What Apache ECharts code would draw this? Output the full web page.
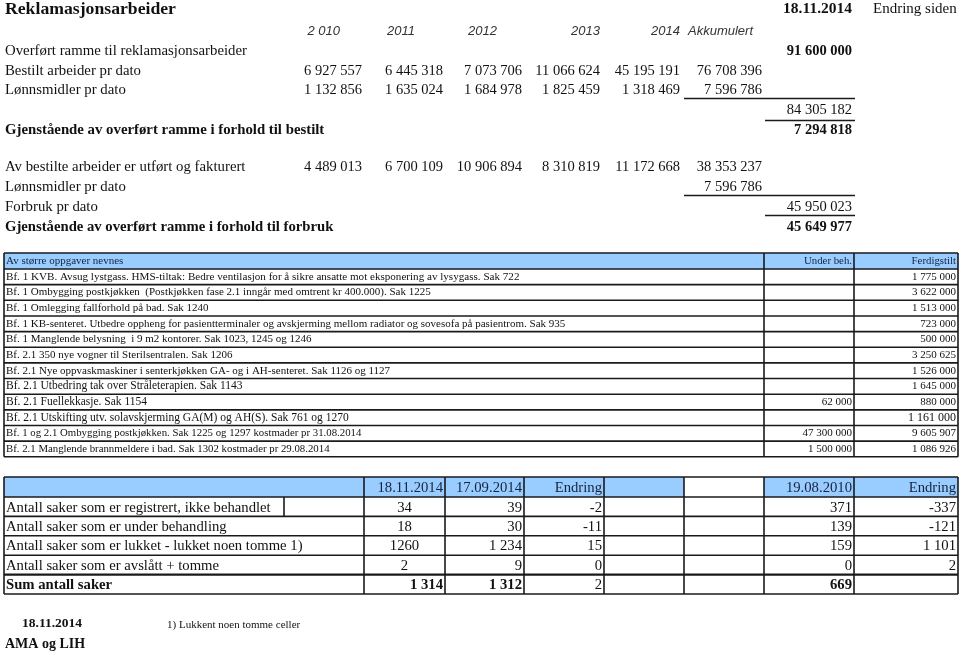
<!DOCTYPE html>
<html>
<head>
<meta charset="utf-8">
<script src="https://cdn.jsdelivr.net/npm/echarts@6/dist/echarts.min.js"></script>
<style>
  html, body { margin: 0; padding: 0; background: #fff; }
  #main { width: 960px; height: 653px; }
</style>
</head>
<body>
<div id="main"></div>
<script>
// --- data ---
var years = ['2 010', '2011', '2012', '2013', '2014'];
var bestilt = [6927557, 6445318, 7073706, 11066624, 45195191, 76708396];
var lonn = [1132856, 1635024, 1684978, 1825459, 1318469, 7596786];
var ramme = 91600000;
var sumBestilt = 84305182;
var restBestilt = 7294818;
var utfort = [4489013, 6700109, 10906894, 8310819, 11172668, 38353237];
var lonnTotal = 7596786;
var forbruk = 45950023;
var restForbruk = 45649977;

var taskNames = [
  'Bf. 1 KVB. Avsug lystgass. HMS-tiltak: Bedre ventilasjon for å sikre ansatte mot eksponering av lysygass. Sak 722',
  'Bf. 1 Ombygging postkjøkken  (Postkjøkken fase 2.1 inngår med omtrent kr 400.000). Sak 1225',
  'Bf. 1 Omlegging fallforhold på bad. Sak 1240',
  'Bf. 1 KB-senteret. Utbedre oppheng for pasientterminaler og avskjerming mellom radiator og sovesofa på pasientrom. Sak 935',
  'Bf. 1 Manglende belysning  i 9 m2 kontorer. Sak 1023, 1245 og 1246',
  'Bf. 2.1 350 nye vogner til Sterilsentralen. Sak 1206',
  'Bf. 2.1 Nye oppvaskmaskiner i senterkjøkken GA- og i AH-senteret. Sak 1126 og 1127',
  'Bf. 2.1 Utbedring tak over Stråleterapien. Sak 1143',
  'Bf. 2.1 Fuellekkasje. Sak 1154',
  'Bf. 2.1 Utskifting utv. solavskjerming GA(M) og AH(S). Sak 761 og 1270',
  'Bf. 1 og 2.1 Ombygging postkjøkken. Sak 1225 og 1297 kostmader pr 31.08.2014',
  'Bf. 2.1 Manglende brannmeldere i bad. Sak 1302 kostmader pr 29.08.2014'
];
var taskUnder = [null, null, null, null, null, null, null, null, 62000, null, 47300000, 1500000];
var taskDone = [1775000, 3622000, 1513000, 723000, 500000, 3250625, 1526000, 1645000, 880000, 1161000, 9605907, 1086926];

var sakLabels = [
  'Antall saker som er registrert, ikke behandlet',
  'Antall saker som er under behandling',
  'Antall saker som er lukket - lukket noen tomme 1)',
  'Antall saker som er avslått + tomme',
  'Sum antall saker'
];
var sakHeads = ['18.11.2014', '17.09.2014', 'Endring', '19.08.2010', 'Endring'];
var sak1811 = [34, 18, 1260, 2, 1314];
var sak1709 = [39, 30, 1234, 9, 1312];
var sakEndr = [-2, -11, 15, 0, 2];
var sak1908 = [371, 139, 159, 0, 669];
var sakEndr2010 = [-337, -121, 1101, 2, null];

// --- layout ---
var SERIF = '"Liberation Serif", "DejaVu Serif", serif';
var INK = '#111';
var HEADINK = '#16233d';
var BLUE = '#99ccff';
var numRight = [362, 443, 522, 600, 680, 762];
var yearRight = [340, 415, 497, 600, 680];
var totRight = 852;
var LAB = 14.8, NUM = 14.5;
var taskCols = [4, 764, 854, 958];
var taskTop = 253, taskHead = 16, taskRow = 15.65;
var taskSize = [11.1, 11, 11, 11, 11, 11, 11, 11.5, 11.5, 11.5, 10.8, 10.8];
var taskNumSize = [11, 11, 11, 11, 11, 11, 11, 11, 11, 12, 11, 11];
var sakCols = [4, 364, 445, 524, 604, 684, 764, 854, 958];
var sakTop = 477, sakHead = 20, sakRow = 19.4;
var SAK = 14.7;

function fmt(n) {
  if (n === null || n === undefined) return '';
  var s = String(Math.abs(n)).replace(/\B(?=(\d{3})+(?!\d))/g, ' ');
  return n < 0 ? '-' + s : s;
}

var rects = [], lines = [], texts = [];
function text(x, y, s, size, opt) {
  opt = opt || {};
  texts.push({ t: 'text', x: x, y: y, s: s, align: opt.align || 'left',
    font: (opt.italic ? 'italic ' : '') + (opt.bold ? 'bold ' : '') + size + 'px ' + (opt.family || SERIF),
    fill: opt.fill || INK });
}
function line(x1, y1, x2, y2, w) {
  lines.push({ t: 'line', x: x1, y: y1, x2: x2, y2: y2, w: w || 1.6 });
}
function rect(x1, y1, x2, y2, fill) {
  rects.push({ t: 'rect', x: x1, y: y1, x2: x2, y2: y2, fill: fill });
}

// top block
text(5, 9, 'Reklamasjonsarbeider', 17.7, { bold: true });
text(totRight, 9, '18.11.2014', 15.5, { bold: true, align: 'right' });
text(873, 9, 'Endring siden', 15);
years.forEach(function (y, i) {
  text(yearRight[i], 31, y, 13, { italic: true, align: 'right', family: '"Liberation Sans", Arial, sans-serif', fill: '#333' });
});
text(688, 31, 'Akkumulert', 13, { italic: true, family: '"Liberation Sans", Arial, sans-serif', fill: '#333' });
text(5, 51, 'Overført ramme til reklamasjonsarbeider', LAB);
text(totRight, 51, fmt(ramme), NUM, { bold: true, align: 'right' });
text(5, 71, 'Bestilt arbeider pr dato', LAB);
bestilt.forEach(function (v, i) { text(numRight[i], 71, fmt(v), NUM, { align: 'right' }); });
text(5, 90, 'Lønnsmidler pr dato', LAB);
lonn.forEach(function (v, i) { text(numRight[i], 90, fmt(v), NUM, { align: 'right' }); });
line(684, 98.5, 855, 98.5, 1.5);
text(totRight, 110, fmt(sumBestilt), NUM, { align: 'right' });
line(765, 120.5, 855, 120.5, 1.5);
text(5, 130, 'Gjenstående av overført ramme i forhold til bestilt', 14.8, { bold: true });
text(totRight, 130, fmt(restBestilt), NUM, { bold: true, align: 'right' });

text(5, 167, 'Av bestilte arbeider er utført og fakturert', LAB);
utfort.forEach(function (v, i) { text(numRight[i], 167, fmt(v), NUM, { align: 'right' }); });
text(5, 187, 'Lønnsmidler pr dato', LAB);
text(numRight[5], 187, fmt(lonnTotal), NUM, { align: 'right' });
line(684, 195.5, 855, 195.5, 1.5);
text(5, 207, 'Forbruk pr dato', LAB);
text(totRight, 207, fmt(forbruk), NUM, { align: 'right' });
line(765, 215.5, 855, 215.5, 1.5);
text(5, 227, 'Gjenstående av overført ramme i forhold til forbruk', 14.7, { bold: true });
text(totRight, 227, fmt(restForbruk), NUM, { bold: true, align: 'right' });

// task table
var taskBottom = taskTop + taskHead + taskRow * taskNames.length;
rect(taskCols[0], taskTop, taskCols[3], taskTop + taskHead, BLUE);
text(6, taskTop + taskHead / 2, 'Av større oppgaver nevnes', 11, { fill: HEADINK });
text(taskCols[2] - 2, taskTop + taskHead / 2, 'Under beh.', 10.8, { align: 'right', fill: HEADINK });
text(taskCols[3] - 2, taskTop + taskHead / 2, 'Ferdigstilt', 10.8, { align: 'right', fill: HEADINK });
taskNames.forEach(function (name, i) {
  var yc = taskTop + taskHead + taskRow * i + taskRow / 2;
  text(6, yc, name, taskSize[i]);
  text(taskCols[2] - 2, yc, fmt(taskUnder[i]), 11, { align: 'right' });
  text(taskCols[3] - 2, yc, fmt(taskDone[i]), taskNumSize[i], { align: 'right' });
});
for (var r = 0; r <= taskNames.length + 1; r++) {
  var yy = r === 0 ? taskTop : taskTop + taskHead + taskRow * (r - 1);
  line(taskCols[0], yy, taskCols[3], yy, 1.6);
}
taskCols.forEach(function (x) { line(x, taskTop, x, taskBottom, 1.6); });

// case count table
var sakBottom = sakTop + sakHead + sakRow * sakLabels.length;
rect(sakCols[0], sakTop, sakCols[1], sakTop + sakHead, BLUE);
sakCols.forEach(function (x, i) {
  if (i < sakCols.length - 1 && i !== 5) rect(x, sakTop, sakCols[i + 1], sakTop + sakHead, BLUE);
});
var headCols = [1, 2, 3, 6, 7];
sakHeads.forEach(function (h, i) {
  text(sakCols[headCols[i] + 1] - 2, sakTop + sakHead / 2 + 1, h, SAK, { align: 'right', fill: HEADINK });
});
sakLabels.forEach(function (lab, i) {
  var yc = sakTop + sakHead + sakRow * i + sakRow / 2 + 1;
  var sum = i === sakLabels.length - 1;
  text(6, yc, lab, SAK, { bold: sum });
  if (sum) text(sakCols[2] - 2, yc, fmt(sak1811[i]), SAK, { bold: true, align: 'right' });
  else text((sakCols[1] + sakCols[2]) / 2, yc, String(sak1811[i]), SAK, { align: 'center' });
  text(sakCols[3] - 2, yc, fmt(sak1709[i]), SAK, { bold: sum, align: 'right' });
  text(sakCols[4] - 2, yc, fmt(sakEndr[i]), SAK, { align: 'right' });
  text(sakCols[7] - 2, yc, fmt(sak1908[i]), SAK, { bold: sum, align: 'right' });
  text(sakCols[8] - 2, yc, fmt(sakEndr2010[i]), SAK, { align: 'right' });
});
for (var k = 0; k <= sakLabels.length + 1; k++) {
  var ys = k === 0 ? sakTop : sakTop + sakHead + sakRow * (k - 1);
  line(sakCols[0], ys, sakCols[8], ys, k === sakLabels.length ? 2.4 : 1.6);
}
sakCols.forEach(function (x) { line(x, sakTop, x, sakBottom, 1.6); });
line(284, sakTop + sakHead, 284, sakTop + sakHead + sakRow, 1.6);

// footer
text(22, 624, '18.11.2014', 13.5, { bold: true });
text(5, 644, 'AMA og LIH', 14, { bold: true });
text(167, 625, '1) Lukkent noen tomme celler', 11);

var marks = rects.concat(lines, texts);

var myChart = echarts.init(document.getElementById('main'));
var option = {
  animation: false,
  grid: { left: 0, right: 0, top: 0, bottom: 0 },
  xAxis: { type: 'value', min: 0, max: 960, show: false },
  yAxis: { type: 'value', min: 0, max: 653, inverse: true, show: false },
  series: [{
    type: 'custom',
    silent: true,
    clip: false,
    data: marks.map(function (m) { return [m.x, m.y]; }),
    renderItem: function (params, api) {
      var m = marks[params.dataIndex];
      var p = api.coord([api.value(0), api.value(1)]);
      if (m.t === 'text') {
        return { type: 'text', x: p[0], y: p[1],
          style: { text: m.s, align: m.align, verticalAlign: 'middle', font: m.font, fill: m.fill } };
      }
      var q = api.coord([m.x2, m.y2]);
      if (m.t === 'line') {
        return { type: 'line', shape: { x1: p[0], y1: p[1], x2: q[0], y2: q[1] },
          style: { stroke: '#1a1a1a', lineWidth: m.w } };
      }
      return { type: 'rect', shape: { x: p[0], y: p[1], width: q[0] - p[0], height: q[1] - p[1] },
        style: { fill: m.fill } };
    }
  }]
};
myChart.setOption(option);
</script>
</body>
</html>
